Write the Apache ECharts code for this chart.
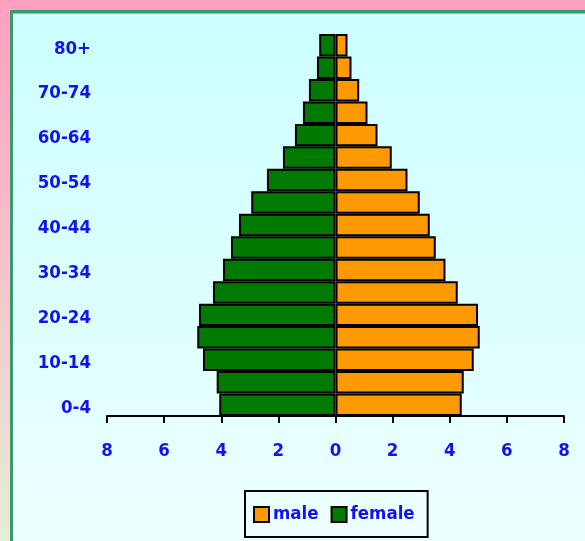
<!DOCTYPE html>
<html>
<head>
<meta charset="utf-8">
<style>
    html,body{margin:0;padding:0;}
    body{width:585px;height:541px;overflow:hidden;position:relative;
        background:linear-gradient(to bottom,#ff9fc2 0%,#f7c0cc 45%,#e4eed6 100%);}
    .panel{position:absolute;left:10px;top:10px;width:600px;height:560px;
        border:3px solid #3a9a6c;box-shadow:inset 0 1px 0 #70d0a6;
        background:linear-gradient(to bottom,#ccffff 0%,#e0ffff 60%,#f0ffff 100%);}
    #main{position:absolute;left:0;top:0;width:585px;height:541px;}
</style>
</head>
<body>
<div class="panel"></div>
<div id="main"></div>
<script src="https://cdn.jsdelivr.net/npm/echarts@6/dist/echarts.min.js"></script>
<script>
    // age groups, youngest first (bottom of the pyramid)
    var ages = ['0-4', '5-9', '10-14', '15-19', '20-24', '25-29', '30-34', '35-39', '40-44',
        '45-49', '50-54', '55-59', '60-64', '65-69', '70-74', '75-79', '80+'];
    // percent of population
    var male = [4.42, 4.49, 4.84, 5.05, 4.99, 4.28, 3.85, 3.51, 3.30,
        2.95, 2.52, 1.97, 1.47, 1.12, 0.83, 0.56, 0.42];
    var female = [4.07, 4.16, 4.64, 4.84, 4.78, 4.29, 3.94, 3.66, 3.38,
        2.95, 2.40, 1.84, 1.42, 1.14, 0.93, 0.65, 0.57];
    var xTicks = {min: -8, max: 8, step: 2};

    var font = '"DejaVu Sans Condensed", "DejaVu Sans", sans-serif';
    var blue = '#1212f0';

    var dom = document.getElementById('main');
    var myChart = echarts.init(dom, null, {renderer: 'canvas'});
    var option = {
        animation: false,
        grid: {
            left: 107,
            right: 21,
            top: 34,
            bottom: 125,
            containLabel: false
        },
        legend: {
            data: ['male', 'female'],
            left: 245,
            top: 491,
            padding: [14, 13, 13, 8],
            itemGap: 12,
            itemWidth: 15,
            itemHeight: 15,
            icon: 'rect',
            borderColor: '#000',
            borderWidth: 2,
            backgroundColor: 'rgba(0,0,0,0)',
            textStyle: {
                color: blue,
                fontFamily: font,
                fontWeight: 'bold',
                fontSize: 18.5,
                padding: [0, 0, 0, -1]
            }
        },
        xAxis: {
            type: 'value',
            min: xTicks.min,
            max: xTicks.max,
            interval: xTicks.step,
            splitLine: {show: false},
            axisLine: {show: true, onZero: false, lineStyle: {color: '#000', width: 2}},
            axisTick: {show: true, length: 7, lineStyle: {color: '#000', width: 2}},
            axisLabel: {
                margin: 26,
                color: blue,
                fontFamily: font,
                fontWeight: 'bold',
                fontSize: 18.5,
                formatter: function (v) { return Math.abs(v); }
            }
        },
        yAxis: {
            type: 'category',
            data: ages,
            axisLine: {show: false},
            axisTick: {show: false},
            splitLine: {show: false},
            axisLabel: {
                interval: 1,
                margin: 16,
                color: blue,
                fontFamily: font,
                fontWeight: 'bold',
                fontSize: 18.5,
                // labels sit a little below the band centre in the original
                verticalAlign: 'top',
                lineHeight: 7
            }
        },
        series: [
            {
                name: 'male',
                type: 'bar',
                stack: 'pop',
                barCategoryGap: 0,
                data: male,
                itemStyle: {color: '#ff9900', borderColor: '#000', borderWidth: 2}
            },
            {
                name: 'female',
                type: 'bar',
                stack: 'pop',
                barCategoryGap: 0,
                data: female.map(function (v) { return -v; }),
                itemStyle: {color: '#007a00', borderColor: '#000', borderWidth: 2}
            }
        ]
    };

    if (option && typeof option === "object") {
        myChart.setOption(option, true);
    }
</script>
</body>
</html>
